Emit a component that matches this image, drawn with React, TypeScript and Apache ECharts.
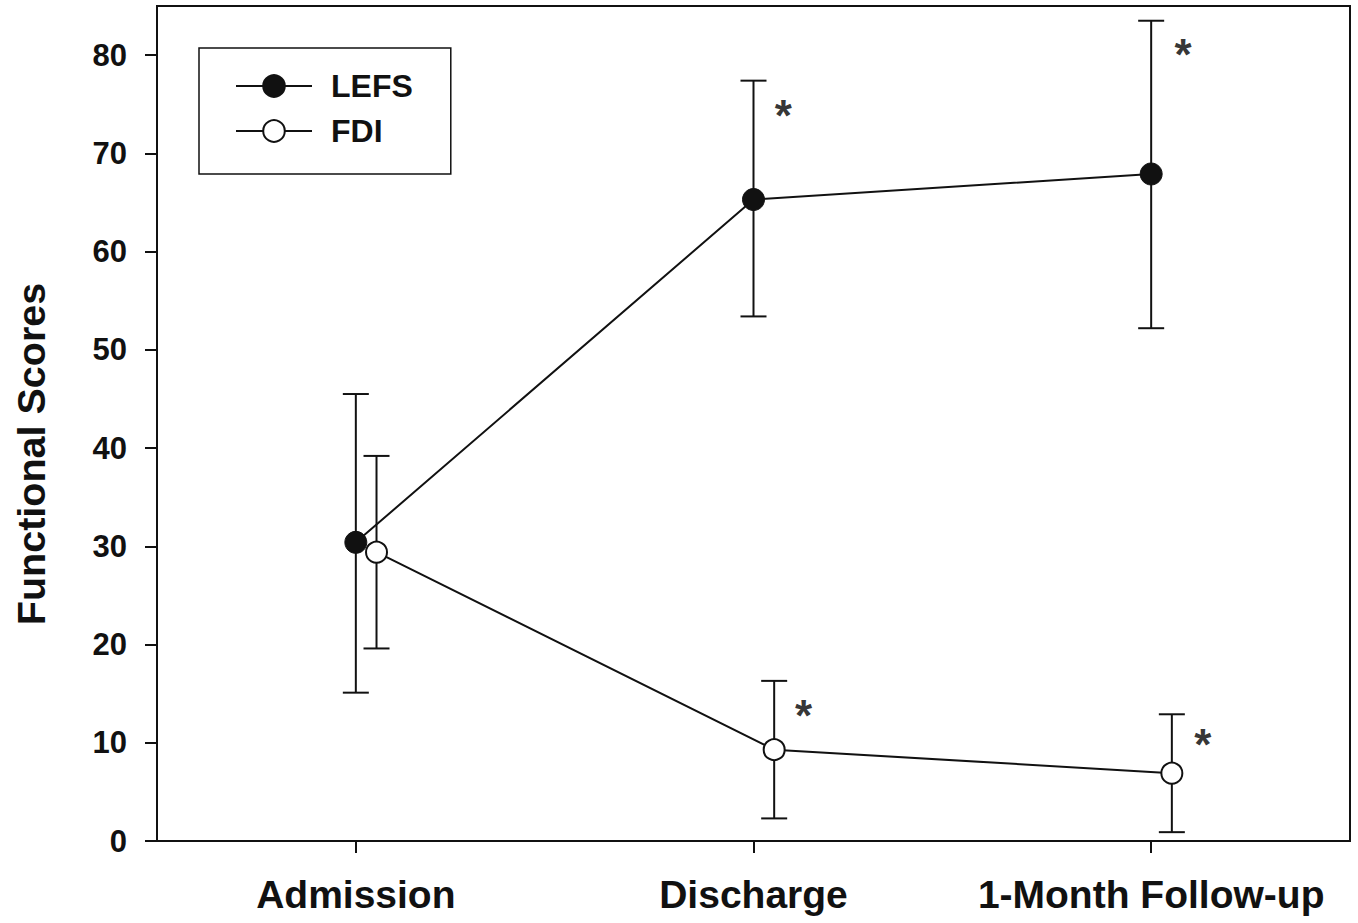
import React, { useEffect, useRef } from "react";
import * as echarts from "echarts";

const categories = ["Admission", "Discharge", "1-Month Follow-up"];
const categoryX = [1, 2, 3];
const fdiOffset = 0.052;

const lefsMean = [30.4, 65.3, 67.9];
const lefsLow = [15.1, 53.4, 52.2];
const lefsHigh = [45.5, 77.4, 83.5];

const fdiMean = [29.4, 9.3, 6.9];
const fdiLow = [19.6, 2.3, 0.9];
const fdiHigh = [39.2, 16.3, 12.9];

const yTicks = [0, 10, 20, 30, 40, 50, 60, 70, 80];

// significance markers "*": [x, y]
const sigX = [2.075, 3.08, 2.126, 3.13];
const sigY = [74.7, 80.9, 13.6, 10.6];

const INK = "#111111";
const FONT = "Liberation Sans, Arial, sans-serif";

export default function App() {
  const ref = useRef<HTMLDivElement>(null);

  useEffect(() => {
    if (!ref.current) return;
    const chart = echarts.init(ref.current, null, { renderer: "svg" });

    const lefsPts = categoryX.map((x, i) => [x, lefsMean[i]]);
    const fdiPts = categoryX.map((x, i) => [x + fdiOffset, fdiMean[i]]);
    const lefsErr = categoryX.map((x, i) => [x, lefsLow[i], lefsHigh[i]]);
    const fdiErr = categoryX.map((x, i) => [x + fdiOffset, fdiLow[i], fdiHigh[i]]);
    const sigPts = sigX.map((x, i) => [x, sigY[i]]);

    const errRender = (params: any, api: any) => {
      const x = api.value(0);
      const lo = api.coord([x, api.value(1)]);
      const hi = api.coord([x, api.value(2)]);
      const half = 13;
      const style = { stroke: INK, lineWidth: 2 };
      return {
        type: "group",
        children: [
          { type: "line", shape: { x1: lo[0], y1: lo[1], x2: hi[0], y2: hi[1] }, style },
          { type: "line", shape: { x1: hi[0] - half, y1: hi[1], x2: hi[0] + half, y2: hi[1] }, style },
          { type: "line", shape: { x1: lo[0] - half, y1: lo[1], x2: lo[0] + half, y2: lo[1] }, style },
        ],
      };
    };

    chart.setOption({
      animation: false,
      backgroundColor: "#ffffff",
      grid: {
        left: 157,
        right: 8,
        top: 6,
        bottom: 82,
        show: true,
        borderColor: INK,
        borderWidth: 2,
        backgroundColor: "transparent",
      },
      legend: {
        left: 199,
        top: 48,
        orient: "vertical",
        padding: [22, 38, 27, 36],
        itemWidth: 76,
        itemHeight: 27,
        itemGap: 13,
        borderColor: INK,
        borderWidth: 1.5,
        borderRadius: 0,
        data: ["LEFS", "FDI"],
        textStyle: {
          fontFamily: FONT,
          fontWeight: "bold",
          fontSize: 32,
          color: INK,
          lineHeight: 31,
          padding: [0, 0, 0, 14],
        },
      },
      xAxis: {
        type: "value",
        min: 0.5,
        max: 3.5,
        splitLine: { show: false },
        axisLine: { show: true, lineStyle: { color: INK, width: 2 } },
        axisTick: { show: true, length: 12, lineStyle: { color: INK, width: 2 }, customValues: categoryX },
        axisLabel: {
          customValues: categoryX,
          margin: 34,
          fontFamily: FONT,
          fontWeight: "bold",
          fontSize: 39,
          color: INK,
          formatter: (v: number) => categories[Math.round(v) - 1] ?? "",
        },
      },
      yAxis: {
        type: "value",
        min: 0,
        max: 85,
        interval: 10,
        splitLine: { show: false },
        axisLine: { show: true, lineStyle: { color: INK, width: 2 } },
        axisTick: { show: true, length: 12, lineStyle: { color: INK, width: 2 }, customValues: yTicks },
        axisLabel: {
          customValues: yTicks,
          margin: 30,
          fontFamily: FONT,
          fontWeight: "bold",
          fontSize: 31,
          color: INK,
        },
      },
      graphic: [
        {
          type: "text",
          x: 31,
          y: 454,
          rotation: Math.PI / 2,
          style: {
            text: "Functional Scores",
            fontFamily: FONT,
            fontWeight: "bold",
            fontSize: 39.5,
            fill: INK,
            align: "center",
            verticalAlign: "middle",
          },
        },
      ],
      series: [
        {
          type: "custom",
          name: "lefsErr",
          renderItem: errRender,
          data: lefsErr,
          z: 1,
          silent: true,
          encode: { x: 0, y: [1, 2] },
        },
        {
          type: "custom",
          name: "fdiErr",
          renderItem: errRender,
          data: fdiErr,
          z: 1,
          silent: true,
          encode: { x: 0, y: [1, 2] },
        },
        {
          type: "line",
          name: "LEFS",
          data: lefsPts,
          z: 3,
          symbol: "circle",
          symbolSize: 22,
          lineStyle: { color: INK, width: 2 },
          itemStyle: { color: INK, borderColor: INK, borderWidth: 1 },
        },
        {
          type: "line",
          name: "FDI",
          data: fdiPts,
          z: 4,
          symbol: "circle",
          symbolSize: 21,
          lineStyle: { color: INK, width: 2 },
          itemStyle: { color: "#ffffff", borderColor: INK, borderWidth: 2 },
        },
        {
          type: "scatter",
          name: "sig",
          data: sigPts,
          symbol: "circle",
          symbolSize: 1,
          itemStyle: { color: "rgba(0,0,0,0)" },
          silent: true,
          z: 5,
          label: {
            show: true,
            position: "inside",
            formatter: "*",
            fontFamily: FONT,
            fontWeight: "bold",
            fontSize: 44,
            color: "#000000",
            textBorderWidth: 0,
            offset: [0, 8],
          },
        },
      ],
    });

    return () => chart.dispose();
  }, []);

  return (
    <div
      ref={ref}
      style={{ position: "fixed", left: 0, top: 0, width: 1358, height: 923, background: "#fff" }}
    />
  );
}
